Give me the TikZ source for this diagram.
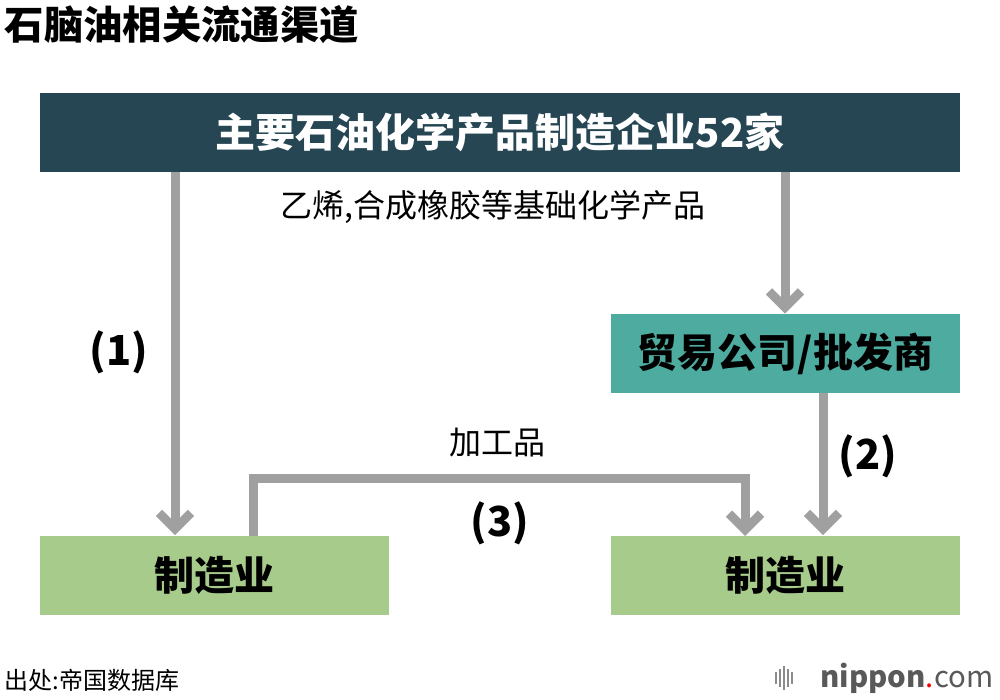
\documentclass[tikz,border=0pt]{standalone}
\usepackage{fontspec}
\setmainfont{Noto Sans CJK SC}
\usetikzlibrary{positioning, arrows.meta}
\definecolor{header}{RGB}{38,70,84}
\definecolor{trade}{RGB}{77,171,160}
\definecolor{maker}{RGB}{166,203,138}
\definecolor{flow}{RGB}{160,160,160}

\begin{document}
\begin{tikzpicture}[x=0.75pt, y=-0.75pt,
    box/.style={rectangle, inner sep=0pt, minimum width=261.75pt, minimum height=59.25pt, font=\fontsize{30}{33}\selectfont\bfseries},
    flowarrow/.style={-{Straight Barb[length=12pt,width=24pt]}, draw=flow, line width=6.75pt},
    lbl/.style={font=\fontsize{24}{26}\selectfont},
    num/.style={font=\fontsize{31}{34}\selectfont\bfseries}
]
\useasboundingbox (0,0) rectangle (1000,700);

% ========== 标题 ==========
\node[anchor=west, font=\fontsize{29.5}{32}\selectfont\bfseries] (title) at (0,25) {石脑油相关流通渠道};

% ========== 方框 ==========
\node[box, fill=header, text=white, minimum width=690pt] (makers) at (500,132) {主要石油化学产品制造企业52家};
\node[box, fill=trade] (dealer) at (785.5,353.5) {贸易公司/批发商};
\node[box, fill=maker] (mfgL) at (214.5,575) {制造业};
\node[box, fill=maker] (mfgR) at (785.5,575) {制造业};

% ========== 连接点 ==========
\coordinate (p1) at (175,172);
\coordinate (p2) at (785,172);
\coordinate (p3) at (823,393);
\coordinate (q3) at (253,536);

% ========== 箭头 ==========
\draw[flowarrow] (p1) -- (p1 |- mfgL.north);
\draw[flowarrow] (p2) -- (p2 |- dealer.north);
\draw[flowarrow] (p3) -- (p3 |- mfgR.north);
\draw[flowarrow] (q3) -- (253,478) -- (745,478) -- (745,536);

% ========== 标签 ==========
\node[lbl] (base) at (493,207) {乙烯,合成橡胶等基础化学产品};
\node[num] (n1) at (119,352) {(1)};
\node[num] (n2) at (868,456) {(2)};
\node[num] (n3) at (500,523) {(3)};
\node[lbl] (proc) at (497,443) {加工品};

% ========== 出处 ==========
\node[anchor=west, font=\fontsize{18}{20}\selectfont] (src) at (0,680) {出处:帝国数据库};
\node[anchor=east, font=\fontsize{22}{24}\selectfont, text=black!65] (logo) at (998,678) {\textbf{nippon}\textcolor{red}{.}com};
\foreach \i/\h in {0/6,1/9,2/12,3/9,4/6}
  \draw[black!45, line width=1pt] (776+\i*4,678-\h) -- (776+\i*4,678+\h);
\end{tikzpicture}
\end{document}
